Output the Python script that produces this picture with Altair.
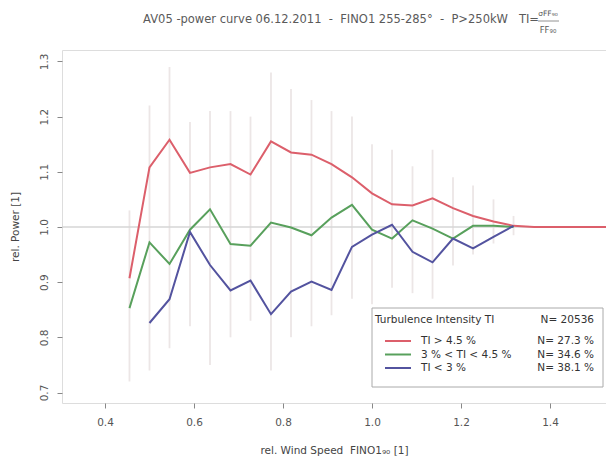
import altair as alt
import pandas as pd

# ---- data ----
wind = [0.455, 0.5, 0.545, 0.591, 0.636, 0.682, 0.727, 0.773, 0.818, 0.864,
        0.909, 0.955, 1.0, 1.045, 1.091, 1.136, 1.182, 1.227, 1.273, 1.318,
        1.364, 1.409, 1.455, 1.5, 1.545]
power_high = [0.907, 1.108, 1.158, 1.098, 1.108, 1.114, 1.095, 1.155, 1.135, 1.131,
              1.114, 1.090, 1.061, 1.041, 1.039, 1.052, 1.034, 1.020, 1.010, 1.002,
              1.0, 1.0, 1.0, 1.0, 1.0]
power_mid = [0.853, 0.972, 0.933, 0.995, 1.032, 0.969, 0.966, 1.008, 0.999, 0.985,
             1.017, 1.040, 0.995, 0.979, 1.012, 0.997, 0.979, 1.002, 1.002, 1.0]
power_low = [None, 0.826, 0.869, 0.991, 0.931, 0.885, 0.903, 0.842, 0.883, 0.901,
             0.886, 0.964, 0.986, 1.004, 0.955, 0.936, 0.979, 0.961, 0.982, 1.002]
err_low = [0.72, 0.74, 0.78, 0.82, 0.75, 0.80, 0.83, 0.74, 0.80, 0.82,
           0.84, 0.87, 0.86, 0.89, 0.88, 0.87, 0.93, 0.95, 0.97, 0.985]
err_high = [1.03, 1.22, 1.29, 1.19, 1.21, 1.21, 1.20, 1.28, 1.25, 1.23,
            1.21, 1.20, 1.15, 1.14, 1.11, 1.14, 1.09, 1.075, 1.05, 1.02]

classes = ["TI > 4.5 %", "3 % < TI < 4.5 %", "TI < 3 %"]
class_share = ["N= 27.3 %", "N= 34.6 %", "N= 38.1 %"]
class_colors = ["#dc5f6b", "#58a05c", "#53539f"]
legend_title = "Turbulence Intensity TI"
legend_total = "N= 20536"
x_ticks = [0.4, 0.6, 0.8, 1.0, 1.2, 1.4]
y_ticks = [0.7, 0.8, 0.9, 1.0, 1.1, 1.2, 1.3]

NB = "\u00a0"
title_text = ("AV05 -power curve 06.12.2011" + NB * 2 + "-" + NB * 2 + "FINO1 255-285°"
              + NB * 2 + "-" + NB * 2 + "P>250kW" + NB * 3 + "TI=")
frac_num = "σFF₉₀"
frac_den = "FF₉₀"

FONT = "DejaVu Sans"

rows = []
for series, name in zip([power_high, power_mid, power_low], classes):
    for i, v in enumerate(series):
        if v is not None:
            rows.append({"wind": wind[i], "power": v, "cls": name, "order": i})
lines_df = pd.DataFrame(rows)
err_df = pd.DataFrame({"wind": wind[:len(err_low)], "lo": err_low, "hi": err_high})
ref_df = pd.DataFrame({"power": [1.0]})

xscale = alt.Scale(domain=[0.3034, 1.5258], nice=False, zero=False)
yscale = alt.Scale(domain=[0.681, 1.3207], nice=False, zero=False)

xaxis = alt.Axis(values=x_ticks, format=".1f", grid=False, tickSize=5,
                 labelPadding=9, titlePadding=18, domain=False,
                 tickColor="#888", labelColor="#555", titleColor="#444",
                 labelFont=FONT, titleFont=FONT, labelFontSize=10.5, titleFontSize=10.5,
                 titleFontWeight="normal")
yaxis = alt.Axis(values=y_ticks, format=".1f", grid=False, tickSize=5,
                 labelAngle=270, labelAlign="center", labelBaseline="bottom",
                 labelPadding=8, titlePadding=19, domain=False,
                 tickColor="#888", labelColor="#555", titleColor="#444",
                 labelFont=FONT, titleFont=FONT, labelFontSize=10.5, titleFontSize=10.5,
                 titleFontWeight="normal")

errbars = alt.Chart(err_df).mark_rule(color="#ece6e6", strokeWidth=1.8, clip=True).encode(
    x=alt.X("wind:Q", scale=xscale, axis=xaxis, title="rel. Wind Speed" + NB * 2 + "FINO1₉₀ [1]"),
    y=alt.Y("lo:Q", scale=yscale, axis=yaxis, title="rel. Power [1]"),
    y2="hi:Q",
)

refline = alt.Chart(ref_df).mark_rule(color="#d6d6d6", strokeWidth=1.5).encode(
    y=alt.Y("power:Q", scale=yscale)
)

lines = alt.Chart(lines_df).mark_line(strokeWidth=2, clip=True).encode(
    x=alt.X("wind:Q", scale=xscale),
    y=alt.Y("power:Q", scale=yscale),
    color=alt.Color("cls:N", scale=alt.Scale(domain=classes, range=class_colors), legend=None),
    order="order:Q",
)

# ---- chart title (main text + stacked fraction) ----
title_layers = [
    alt.Chart(ref_df).mark_text(align="right", baseline="middle", font=FONT, fontSize=11.5,
                                color="#5a5a5a").encode(
        x=alt.value(477), y=alt.value(-30), text=alt.value(title_text)),
    alt.Chart(ref_df).mark_text(align="center", baseline="middle", font=FONT, fontSize=7.5,
                                color="#5a5a5a").encode(
        x=alt.value(486), y=alt.value(-36), text=alt.value(frac_num)),
    alt.Chart(ref_df).mark_rule(color="#777", strokeWidth=0.8).encode(
        x=alt.value(476), x2=alt.value(497), y=alt.value(-29)),
    alt.Chart(ref_df).mark_text(align="center", baseline="middle", font=FONT, fontSize=8.5,
                                color="#5a5a5a").encode(
        x=alt.value(486), y=alt.value(-20), text=alt.value(frac_den)),
]

# ---- legend box (drawn as decoration) ----
LF = 10.5
leg_layers = [
    alt.Chart(ref_df).mark_rect(fill="white", stroke="#aaaaaa", strokeWidth=1).encode(
        x=alt.value(310), x2=alt.value(541), y=alt.value(258), y2=alt.value(337)),
    alt.Chart(ref_df).mark_text(align="left", baseline="middle", font=FONT, fontSize=LF,
                                color="#333").encode(
        x=alt.value(313), y=alt.value(270), text=alt.value(legend_title)),
    alt.Chart(ref_df).mark_text(align="right", baseline="middle", font=FONT, fontSize=LF,
                                color="#333").encode(
        x=alt.value(532), y=alt.value(270), text=alt.value(legend_total)),
]
row_y = [291, 304.5, 318]
for i in range(3):
    leg_layers.append(
        alt.Chart(ref_df).mark_rule(color=class_colors[i], strokeWidth=2).encode(
            x=alt.value(323), x2=alt.value(349), y=alt.value(row_y[i])))
    leg_layers.append(
        alt.Chart(ref_df).mark_text(align="left", baseline="middle", font=FONT, fontSize=LF,
                                    color="#333").encode(
            x=alt.value(359), y=alt.value(row_y[i]), text=alt.value(classes[i])))
    leg_layers.append(
        alt.Chart(ref_df).mark_text(align="right", baseline="middle", font=FONT, fontSize=LF,
                                    color="#333").encode(
            x=alt.value(532), y=alt.value(row_y[i]), text=alt.value(class_share[i])))

chart = alt.layer(errbars, refline, lines, *title_layers, *leg_layers).properties(
    width=544,
    height=353,
    autosize=alt.AutoSizeParams(type="none"),
    padding={"left": 54, "top": 42, "right": 0, "bottom": 53},
).configure_view(stroke="#9a9a9a", strokeWidth=1.2).configure(background="white")

chart.save("out.html", embed_options={"renderer": "svg", "actions": False})
